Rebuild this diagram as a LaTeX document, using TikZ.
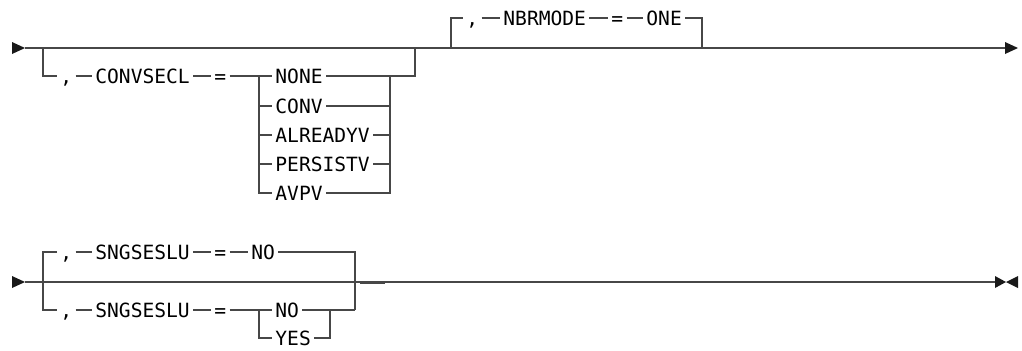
\documentclass[tikz,border=0pt]{standalone}
\usepackage{fontspec}
\newfontfamily\railfont{DejaVu Sans Mono}
\usetikzlibrary{positioning}

\begin{document}
\begin{tikzpicture}[
    x=0.5pt, y=-0.5pt,
    rail/.style = {draw=black!72, line width=0.8pt},
    kw/.style = {anchor=west, inner xsep=1.5pt, inner ysep=0pt, text height=7pt, text depth=0pt, font={\railfont\fontsize{9.8}{11}\selectfont}, text=black},
    tip/.style = {fill=black!90, draw=none}]

    \useasboundingbox (0,0) rectangle (1022,350);

    % first line
    \coordinate (s1) at (25,48);
    \coordinate (e1) at (1005,48);
    \fill[tip] (12,42) -- (s1) -- (12,54) -- cycle;
    \fill[tip] (e1) ++(0,-6) -- (1018,48) -- (1005,54) -- cycle;
    \draw[rail] (s1) -- (e1);

    % CONVSECL group
    \coordinate (aS) at (43,48);
    \coordinate (aL) at (259,76);
    \coordinate (aR) at (390,76);
    \coordinate (aE) at (415,48);
    \node[kw] (comA) at (57,76) {,};
    \node[kw] (conv) at (92,76) {CONVSECL};
    \node[kw] (eqA) at (211,76) {=};
    \node[kw] (none) at (272,76) {NONE};
    \node[kw] (cnv) at (272,106) {CONV};
    \node[kw] (alrv) at (272,135) {ALREADYV};
    \node[kw] (perv) at (272,164) {PERSISTV};
    \node[kw] (avpv) at (272,193) {AVPV};

    \draw[rail] (aS) |- (comA.west);
    \draw[rail] (comA) -- (conv);
    \draw[rail] (conv) -- (eqA);
    \draw[rail] (eqA) -- (aL);
    \draw[rail] (aL) -- (none);
    \draw[rail] (aL) |- (cnv.west);
    \draw[rail] (aL) |- (alrv.west);
    \draw[rail] (aL) |- (perv.west);
    \draw[rail] (aL) |- (avpv.west);
    \draw[rail] (none) -- (aR);
    \draw[rail] (cnv.east) -| (aR);
    \draw[rail] (alrv.east) -| (aR);
    \draw[rail] (perv.east) -| (aR);
    \draw[rail] (avpv.east) -| (aR);
    \draw[rail] (aR) -| (aE);

    % NBRMODE group
    \coordinate (bS) at (451,48);
    \coordinate (bE) at (702,48);
    \node[kw] (comB) at (463,18) {,};
    \node[kw] (nbr) at (500,18) {NBRMODE};
    \node[kw] (eqB) at (608,18) {=};
    \node[kw] (one) at (643,18) {ONE};

    \draw[rail] (bS) |- (comB.west);
    \draw[rail] (comB) -- (nbr);
    \draw[rail] (nbr) -- (eqB);
    \draw[rail] (eqB) -- (one);
    \draw[rail] (one.east) -| (bE);

    % second line
    \coordinate (s2) at (25,282);
    \coordinate (e2) at (995,282);
    \fill[tip] (12,276) -- (s2) -- (12,288) -- cycle;
    \fill[tip] (e2) ++(0,-6) -- (1006,282) -- (995,288) -- cycle;
    \fill[tip] (1018,276) -- (1006,282) -- (1018,288) -- cycle;
    \draw[rail] (s2) -- (e2);
    \coordinate (d1) at (360,282);
    \coordinate (d2) at (385,282);
    \draw[rail, line width=1.5pt] (d1) -- (d2);

    % SNGSESLU group
    \coordinate (cS) at (43,252);
    \coordinate (cL) at (259,310);
    \coordinate (cR) at (330,310);
    \coordinate (cB) at (355,310);
    \node[kw] (comC) at (57,252) {,};
    \node[kw] (sngA) at (92,252) {SNGSESLU};
    \node[kw] (eqC) at (211,252) {=};
    \node[kw] (noA) at (248,252) {NO};
    \node[kw] (comD) at (57,310) {,};
    \node[kw] (sngB) at (92,310) {SNGSESLU};
    \node[kw] (eqD) at (211,310) {=};
    \node[kw] (noB) at (272,310) {NO};
    \node[kw] (yes) at (272,338) {YES};

    \draw[rail] (comC.west) -| (cS) |- (comD.west);
    \draw[rail] (comC) -- (sngA);
    \draw[rail] (sngA) -- (eqC);
    \draw[rail] (eqC) -- (noA);
    \draw[rail] (noA.east) -| (cB);
    \draw[rail] (comD) -- (sngB);
    \draw[rail] (sngB) -- (eqD);
    \draw[rail] (eqD) -- (cL);
    \draw[rail] (cL) -- (noB);
    \draw[rail] (cL) |- (yes.west);
    \draw[rail] (noB) -- (cR);
    \draw[rail] (yes.east) -| (cR);
    \draw[rail] (cR) -- (cB);
\end{tikzpicture}
\end{document}
